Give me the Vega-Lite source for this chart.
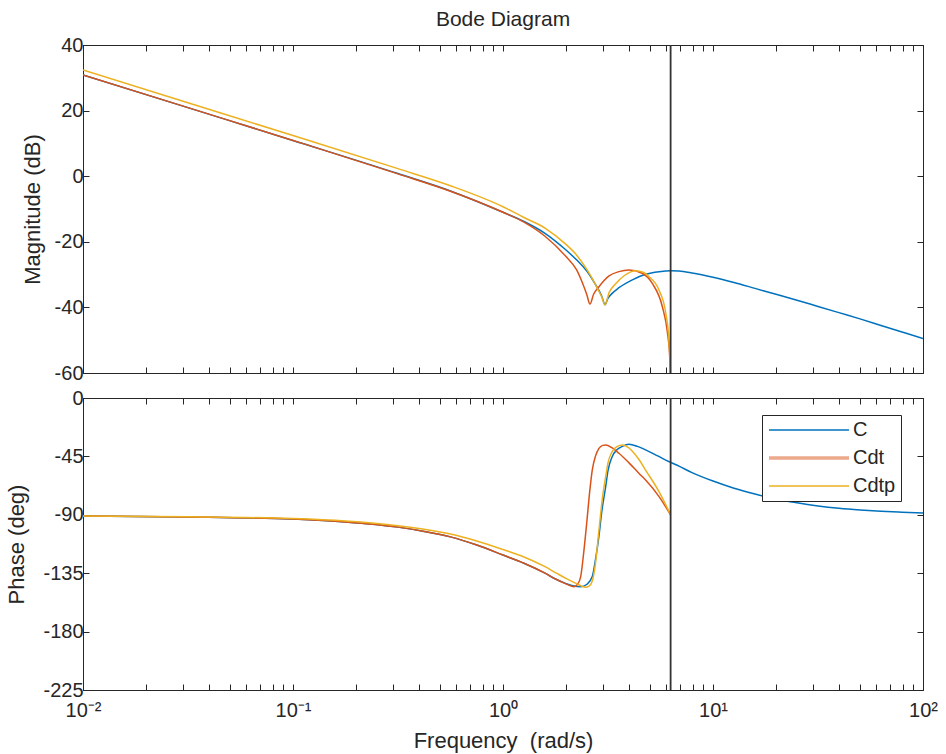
{
  "$schema": "https://vega.github.io/schema/vega-lite/v6.json",
  "background": "white",
  "padding": {"left": 5, "top": 8, "right": 5, "bottom": 5},
  "config": {
    "font": "Liberation Sans",
    "view": {"stroke": "#262626", "strokeWidth": 1},
    "axis": {"grid": false, "domainColor": "#262626", "tickColor": "#262626", "labelColor": "#262626", "titleColor": "#262626", "labelFont": "Liberation Sans", "titleFont": "Liberation Sans", "labelFontSize": 20, "titleFontSize": 22, "titleFontWeight": "normal", "tickSize": -6, "labelPadding": 6},
    "legend": {"labelFont": "Liberation Sans", "labelFontSize": 20, "labelColor": "#262626"}
  },
  "datasets": {
    "mag": [
      {"s": "C", "w": 0.01, "v": 30.9}, {"s": "C", "w": 0.0316, "v": 20.9}, {"s": "C", "w": 0.1, "v": 10.9}, {"s": "C", "w": 0.316, "v": 0.8}, {"s": "C", "w": 0.562, "v": -4.5}, {"s": "C", "w": 1, "v": -11.0}, {"s": "C", "w": 1.259, "v": -13.8}, {"s": "C", "w": 1.585, "v": -17.4}, {"s": "C", "w": 1.995, "v": -22.5}, {"s": "C", "w": 2.239, "v": -25.5}, {"s": "C", "w": 2.512, "v": -29.0}, {"s": "C", "w": 2.754, "v": -33.0}, {"s": "C", "w": 2.951, "v": -36.5}, {"s": "C", "w": 3.062, "v": -39.2}, {"s": "C", "w": 3.15, "v": -37.4}, {"s": "C", "w": 3.3, "v": -35.8}, {"s": "C", "w": 3.565, "v": -34.0}, {"s": "C", "w": 4.13, "v": -31.6}, {"s": "C", "w": 4.775, "v": -29.9}, {"s": "C", "w": 5.534, "v": -29.1}, {"s": "C", "w": 6.31, "v": -28.8}, {"s": "C", "w": 6.887, "v": -28.9}, {"s": "C", "w": 7.943, "v": -29.5}, {"s": "C", "w": 10, "v": -30.8}, {"s": "C", "w": 12.59, "v": -32.4}, {"s": "C", "w": 15.85, "v": -34.2}, {"s": "C", "w": 19.95, "v": -36.0}, {"s": "C", "w": 25.12, "v": -37.8}, {"s": "C", "w": 31.62, "v": -39.7}, {"s": "C", "w": 39.81, "v": -41.6}, {"s": "C", "w": 50.12, "v": -43.5}, {"s": "C", "w": 63.1, "v": -45.5}, {"s": "C", "w": 79.43, "v": -47.5}, {"s": "C", "w": 100, "v": -49.5},
      {"s": "Cdt", "w": 0.01, "v": 30.9}, {"s": "Cdt", "w": 0.0316, "v": 20.9}, {"s": "Cdt", "w": 0.1, "v": 10.9}, {"s": "Cdt", "w": 0.316, "v": 0.7}, {"s": "Cdt", "w": 0.562, "v": -4.6}, {"s": "Cdt", "w": 1, "v": -11.0}, {"s": "Cdt", "w": 1.259, "v": -14.0}, {"s": "Cdt", "w": 1.585, "v": -18.3}, {"s": "Cdt", "w": 1.995, "v": -24.5}, {"s": "Cdt", "w": 2.239, "v": -28.5}, {"s": "Cdt", "w": 2.388, "v": -32.5}, {"s": "Cdt", "w": 2.512, "v": -36.3}, {"s": "Cdt", "w": 2.594, "v": -39.0}, {"s": "Cdt", "w": 2.7, "v": -36.0}, {"s": "Cdt", "w": 2.864, "v": -33.7}, {"s": "Cdt", "w": 3.2, "v": -30.4}, {"s": "Cdt", "w": 3.565, "v": -29.1}, {"s": "Cdt", "w": 3.981, "v": -28.6}, {"s": "Cdt", "w": 4.6, "v": -29.6}, {"s": "Cdt", "w": 5.14, "v": -32.7}, {"s": "Cdt", "w": 5.74, "v": -39.8}, {"s": "Cdt", "w": 6.07, "v": -47.8}, {"s": "Cdt", "w": 6.22, "v": -55.0}, {"s": "Cdt", "w": 6.27, "v": -63.0}, {"s": "Cdt", "w": 6.281, "v": -80.0},
      {"s": "Cdtp", "w": 0.01, "v": 32.4}, {"s": "Cdtp", "w": 0.0316, "v": 22.4}, {"s": "Cdtp", "w": 0.1, "v": 12.4}, {"s": "Cdtp", "w": 0.316, "v": 2.3}, {"s": "Cdtp", "w": 0.562, "v": -2.9}, {"s": "Cdtp", "w": 1, "v": -9.3}, {"s": "Cdtp", "w": 1.259, "v": -12.6}, {"s": "Cdtp", "w": 1.585, "v": -15.8}, {"s": "Cdtp", "w": 1.995, "v": -20.8}, {"s": "Cdtp", "w": 2.239, "v": -24.0}, {"s": "Cdtp", "w": 2.512, "v": -28.5}, {"s": "Cdtp", "w": 2.754, "v": -33.0}, {"s": "Cdtp", "w": 2.951, "v": -36.8}, {"s": "Cdtp", "w": 3.062, "v": -39.2}, {"s": "Cdtp", "w": 3.2, "v": -35.5}, {"s": "Cdtp", "w": 3.44, "v": -32.8}, {"s": "Cdtp", "w": 3.8, "v": -30.2}, {"s": "Cdtp", "w": 4.28, "v": -28.8}, {"s": "Cdtp", "w": 4.65, "v": -29.3}, {"s": "Cdtp", "w": 4.95, "v": -30.6}, {"s": "Cdtp", "w": 5.53, "v": -34.7}, {"s": "Cdtp", "w": 5.96, "v": -41.8}, {"s": "Cdtp", "w": 6.17, "v": -50.0}, {"s": "Cdtp", "w": 6.266, "v": -60.0}, {"s": "Cdtp", "w": 6.281, "v": -80.0}
    ],
    "phase": [
      {"s": "C", "w": 0.01, "v": -90.9}, {"s": "C", "w": 0.0316, "v": -91.6}, {"s": "C", "w": 0.1, "v": -93.3}, {"s": "C", "w": 0.178, "v": -95.5}, {"s": "C", "w": 0.316, "v": -99.5}, {"s": "C", "w": 0.422, "v": -102.8}, {"s": "C", "w": 0.562, "v": -107.0}, {"s": "C", "w": 0.75, "v": -113.3}, {"s": "C", "w": 1, "v": -121.0}, {"s": "C", "w": 1.259, "v": -127.3}, {"s": "C", "w": 1.585, "v": -135.0}, {"s": "C", "w": 1.778, "v": -139.5}, {"s": "C", "w": 1.995, "v": -143.0}, {"s": "C", "w": 2.178, "v": -144.9}, {"s": "C", "w": 2.344, "v": -145.4}, {"s": "C", "w": 2.512, "v": -143.5}, {"s": "C", "w": 2.661, "v": -137.6}, {"s": "C", "w": 2.754, "v": -125.0}, {"s": "C", "w": 2.864, "v": -106.3}, {"s": "C", "w": 2.951, "v": -88.0}, {"s": "C", "w": 3.083, "v": -68.3}, {"s": "C", "w": 3.162, "v": -56.0}, {"s": "C", "w": 3.311, "v": -45.2}, {"s": "C", "w": 3.508, "v": -39.5}, {"s": "C", "w": 3.698, "v": -37.3}, {"s": "C", "w": 3.981, "v": -35.7}, {"s": "C", "w": 4.365, "v": -37.3}, {"s": "C", "w": 4.775, "v": -40.0}, {"s": "C", "w": 5.248, "v": -43.2}, {"s": "C", "w": 5.741, "v": -46.5}, {"s": "C", "w": 6.31, "v": -49.7}, {"s": "C", "w": 6.887, "v": -52.5}, {"s": "C", "w": 7.943, "v": -57.5}, {"s": "C", "w": 10, "v": -64.0}, {"s": "C", "w": 12.59, "v": -69.5}, {"s": "C", "w": 15.85, "v": -74.0}, {"s": "C", "w": 19.95, "v": -77.8}, {"s": "C", "w": 25.12, "v": -80.8}, {"s": "C", "w": 31.62, "v": -83.2}, {"s": "C", "w": 39.81, "v": -85.0}, {"s": "C", "w": 50.12, "v": -86.3}, {"s": "C", "w": 63.1, "v": -87.3}, {"s": "C", "w": 79.43, "v": -88.0}, {"s": "C", "w": 100, "v": -88.6},
      {"s": "Cdt", "w": 0.01, "v": -90.9}, {"s": "Cdt", "w": 0.0316, "v": -91.6}, {"s": "Cdt", "w": 0.1, "v": -93.3}, {"s": "Cdt", "w": 0.178, "v": -95.5}, {"s": "Cdt", "w": 0.316, "v": -99.5}, {"s": "Cdt", "w": 0.422, "v": -102.8}, {"s": "Cdt", "w": 0.562, "v": -107.0}, {"s": "Cdt", "w": 0.75, "v": -113.3}, {"s": "Cdt", "w": 1, "v": -121.0}, {"s": "Cdt", "w": 1.259, "v": -127.3}, {"s": "Cdt", "w": 1.585, "v": -135.0}, {"s": "Cdt", "w": 1.778, "v": -139.5}, {"s": "Cdt", "w": 1.995, "v": -143.2}, {"s": "Cdt", "w": 2.178, "v": -145.4}, {"s": "Cdt", "w": 2.265, "v": -143.5}, {"s": "Cdt", "w": 2.344, "v": -137.6}, {"s": "Cdt", "w": 2.427, "v": -118.0}, {"s": "Cdt", "w": 2.512, "v": -94.0}, {"s": "Cdt", "w": 2.588, "v": -72.0}, {"s": "Cdt", "w": 2.661, "v": -55.5}, {"s": "Cdt", "w": 2.754, "v": -45.0}, {"s": "Cdt", "w": 2.864, "v": -38.8}, {"s": "Cdt", "w": 2.985, "v": -36.5}, {"s": "Cdt", "w": 3.083, "v": -36.2}, {"s": "Cdt", "w": 3.311, "v": -38.5}, {"s": "Cdt", "w": 3.565, "v": -42.6}, {"s": "Cdt", "w": 3.981, "v": -50.0}, {"s": "Cdt", "w": 4.467, "v": -58.5}, {"s": "Cdt", "w": 4.775, "v": -63.2}, {"s": "Cdt", "w": 5.534, "v": -76.0}, {"s": "Cdt", "w": 6.281, "v": -90.1},
      {"s": "Cdtp", "w": 0.01, "v": -90.9}, {"s": "Cdtp", "w": 0.0316, "v": -91.5}, {"s": "Cdtp", "w": 0.1, "v": -92.9}, {"s": "Cdtp", "w": 0.178, "v": -94.8}, {"s": "Cdtp", "w": 0.316, "v": -98.4}, {"s": "Cdtp", "w": 0.422, "v": -101.2}, {"s": "Cdtp", "w": 0.562, "v": -104.8}, {"s": "Cdtp", "w": 0.75, "v": -110.2}, {"s": "Cdtp", "w": 1, "v": -116.8}, {"s": "Cdtp", "w": 1.259, "v": -122.5}, {"s": "Cdtp", "w": 1.585, "v": -130.0}, {"s": "Cdtp", "w": 1.778, "v": -134.5}, {"s": "Cdtp", "w": 1.995, "v": -139.0}, {"s": "Cdtp", "w": 2.239, "v": -143.0}, {"s": "Cdtp", "w": 2.472, "v": -145.9}, {"s": "Cdtp", "w": 2.57, "v": -145.0}, {"s": "Cdtp", "w": 2.661, "v": -141.0}, {"s": "Cdtp", "w": 2.754, "v": -128.0}, {"s": "Cdtp", "w": 2.864, "v": -101.7}, {"s": "Cdtp", "w": 2.985, "v": -75.0}, {"s": "Cdtp", "w": 3.083, "v": -60.6}, {"s": "Cdtp", "w": 3.162, "v": -50.0}, {"s": "Cdtp", "w": 3.311, "v": -41.3}, {"s": "Cdtp", "w": 3.508, "v": -37.3}, {"s": "Cdtp", "w": 3.698, "v": -36.2}, {"s": "Cdtp", "w": 3.981, "v": -38.5}, {"s": "Cdtp", "w": 4.13, "v": -41.0}, {"s": "Cdtp", "w": 4.467, "v": -48.0}, {"s": "Cdtp", "w": 4.775, "v": -55.5}, {"s": "Cdtp", "w": 5.534, "v": -72.2}, {"s": "Cdtp", "w": 6.281, "v": -90.0}
    ],
    "vmag": [{"w": 6.2832, "lo": -60, "hi": 40}],
    "vphase": [{"w": 6.2832, "lo": -225, "hi": 0}]
  },
  "spacing": 25,
  "bounds": "flush",
  "resolve": {"scale": {"color": "independent"}, "legend": {"color": "independent"}},
  "vconcat": [
    {
      "width": 840,
      "height": 328,
      "title": {"text": "Bode Diagram", "fontSize": 21, "fontWeight": "normal", "color": "#262626", "offset": 5, "font": "Liberation Sans"},
      "resolve": {"axis": {"x": "independent", "y": "independent"}},
      "layer": [
        {
          "data": {"name": "mag"},
          "mark": {"type": "line", "clip": true, "strokeWidth": 1.5, "interpolate": "monotone"},
          "encoding": {
            "x": {"field": "w", "type": "quantitative", "scale": {"type": "log", "domain": [0.01, 100], "nice": false},
                  "axis": {"orient": "bottom", "values": [0.01,0.02,0.03,0.04,0.05,0.06,0.07,0.08,0.09,0.1,0.2,0.3,0.4,0.5,0.6,0.7,0.8,0.9,1,2,3,4,5,6,7,8,9,10,20,30,40,50,60,70,80,90,100], "labels": false, "title": null}},
            "y": {"field": "v", "type": "quantitative", "scale": {"domain": [-60, 40], "nice": false, "zero": false},
                  "axis": {"orient": "left", "values": [-60, -40, -20, 0, 20, 40], "title": "Magnitude (dB)", "labelExpr": "'' + datum.value", "titlePadding": 10}},
            "color": {"field": "s", "type": "nominal", "scale": {"domain": ["C", "Cdt", "Cdtp"], "range": ["#0072BD", "#D95319", "#EDB120"]}, "legend": null}
          }
        },
        {
          "data": {"name": "vmag"},
          "mark": {"type": "rule", "color": "#333333", "strokeWidth": 1.8},
          "encoding": {
            "x": {"field": "w", "type": "quantitative",
                  "axis": {"orient": "top", "values": [0.01,0.02,0.03,0.04,0.05,0.06,0.07,0.08,0.09,0.1,0.2,0.3,0.4,0.5,0.6,0.7,0.8,0.9,1,2,3,4,5,6,7,8,9,10,20,30,40,50,60,70,80,90,100], "labels": false, "title": null}},
            "y": {"field": "lo", "type": "quantitative", "axis": {"orient": "right", "values": [-60, -40, -20, 0, 20, 40], "labels": false, "title": null}},
            "y2": {"field": "hi"}
          }
        }
      ]
    },
    {
      "width": 840,
      "height": 292,
      "resolve": {"axis": {"x": "independent", "y": "independent"}},
      "layer": [
        {
          "data": {"name": "phase"},
          "mark": {"type": "line", "clip": true, "strokeWidth": 1.5, "interpolate": "monotone"},
          "encoding": {
            "x": {"field": "w", "type": "quantitative", "scale": {"type": "log", "domain": [0.01, 100], "nice": false},
                  "axis": {"orient": "bottom", "values": [0.01,0.02,0.03,0.04,0.05,0.06,0.07,0.08,0.09,0.1,0.2,0.3,0.4,0.5,0.6,0.7,0.8,0.9,1,2,3,4,5,6,7,8,9,10,20,30,40,50,60,70,80,90,100],
                           "labelExpr": "datum.value == 0.01 ? '10⁻²' : datum.value == 0.1 ? '10⁻¹' : datum.value == 1 ? '10⁰' : datum.value == 10 ? '10¹' : datum.value == 100 ? '10²' : ''",
                           "labelOverlap": false, "labelFlush": false, "labelPadding": 16, "title": "Frequency \u00a0(rad/s)", "titlePadding": 10}},
            "y": {"field": "v", "type": "quantitative", "scale": {"domain": [-225, 0], "nice": false, "zero": false},
                  "axis": {"orient": "left", "values": [-225, -180, -135, -90, -45, 0], "title": "Phase (deg)", "labelExpr": "'' + datum.value", "titlePadding": 14}},
            "color": {"field": "s", "type": "nominal", "scale": {"domain": ["C", "Cdt", "Cdtp"], "range": ["#0072BD", "#D95319", "#EDB120"]},
                      "legend": {"orient": "none", "legendX": 679, "legendY": 17, "title": null, "symbolType": "M-4,0H4", "symbolSize": 400, "symbolOffset": 32, "symbolStrokeWidth": 1.6, "labelOffset": 34, "rowPadding": 8, "padding": 5, "strokeColor": "#262626", "fillColor": "white", "labelFontSize": 20,
                                 "labelExpr": "datum.label + '\u00a0\u00a0\u00a0'",
                                 "encode": {"symbols": {"update": {"strokeWidth": {"signal": "datum.value === 'Cdt' ? 3.5 : 1.6"}, "strokeOpacity": {"signal": "datum.value === 'Cdt' ? 0.5 : 1"}}}}}}
          }
        },
        {
          "data": {"name": "vphase"},
          "mark": {"type": "rule", "color": "#333333", "strokeWidth": 1.8},
          "encoding": {
            "x": {"field": "w", "type": "quantitative",
                  "axis": {"orient": "top", "values": [0.01,0.02,0.03,0.04,0.05,0.06,0.07,0.08,0.09,0.1,0.2,0.3,0.4,0.5,0.6,0.7,0.8,0.9,1,2,3,4,5,6,7,8,9,10,20,30,40,50,60,70,80,90,100], "labels": false, "title": null}},
            "y": {"field": "lo", "type": "quantitative", "axis": {"orient": "right", "values": [-225, -180, -135, -90, -45, 0], "labels": false, "title": null}},
            "y2": {"field": "hi"}
          }
        }
      ]
    }
  ]
}
